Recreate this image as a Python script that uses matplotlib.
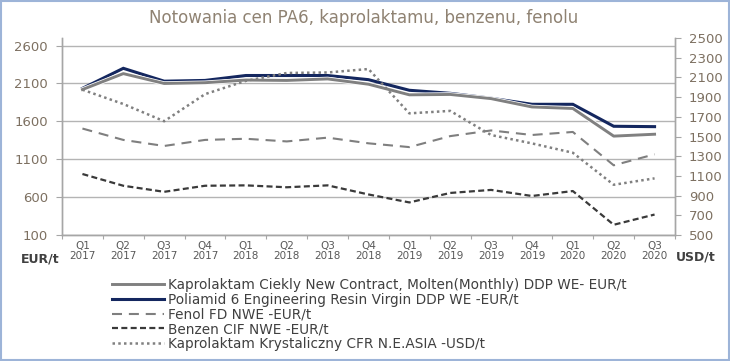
import matplotlib
matplotlib.use('Agg')
import matplotlib.pyplot as plt
import matplotlib.patheffects as pe
from matplotlib.patches import Rectangle

quarters = ['Q1\n2017', 'Q2\n2017', 'Q3\n2017', 'Q4\n2017',
            'Q1\n2018', 'Q2\n2018', 'Q3\n2018', 'Q4\n2018',
            'Q1\n2019', 'Q2\n2019', 'Q3\n2019', 'Q4\n2019',
            'Q1\n2020', 'Q2\n2020', 'Q3\n2020']

# EUR/t (left axis)
kaprolaktam_ciekly = [2020, 2230, 2100, 2110, 2145, 2140, 2160, 2090,
                      1950, 1955, 1900, 1790, 1770, 1405, 1430]
poliamid6 = [2035, 2300, 2130, 2140, 2205, 2205, 2205, 2150,
             2010, 1970, 1905, 1825, 1825, 1535, 1530]
fenol = [1505, 1355, 1275, 1355, 1370, 1335, 1385, 1310,
         1260, 1405, 1480, 1420, 1460, 1020, 1165]
benzen = [905, 750, 670, 750, 755, 730, 755, 635,
          530, 655, 695, 615, 680, 235, 370]

# USD/t (right axis)
kaprolaktam_kryst = [1975, 1830, 1655, 1930, 2065, 2145, 2150, 2185,
                     1735, 1760, 1515, 1430, 1335, 1010, 1075]

labels = ['Kaprolaktam Ciekly New Contract, Molten(Monthly) DDP WE- EUR/t',
          'Poliamid 6 Engineering Resin Virgin DDP WE -EUR/t',
          'Fenol FD NWE -EUR/t',
          'Benzen CIF NWE -EUR/t',
          'Kaprolaktam Krystaliczny CFR N.E.ASIA -USD/t']

W, H = 730, 361
fig = plt.figure(figsize=(W / 100, H / 100), dpi=100)
ax = fig.add_axes([62 / W, 1 - 235 / H, (675 - 62) / W, (235 - 38) / H])
ax2 = ax.twinx()

tick_col = '#7d7061'
axis_col = '#a6a6a6'
x = list(range(len(quarters)))

l_pa6, = ax.plot(x, poliamid6, color='#14275f', lw=2.2, solid_joinstyle='miter')
l_kc, = ax.plot(x, kaprolaktam_ciekly, color='#808080', lw=2.1,
                path_effects=[pe.Stroke(linewidth=3.2, foreground='white'), pe.Normal()])
l_fen, = ax.plot(x, fenol, color='#7f7f7f', lw=1.5, dashes=(4.8, 3.3))
l_ben, = ax.plot(x, benzen, color='#3a3a3a', lw=1.6, dashes=(2.7, 1.5))
l_kk, = ax2.plot(x, kaprolaktam_kryst, color='#808080', lw=1.8, dashes=(1, 1.3))

ax.set_xlim(-0.5, len(quarters) - 0.5)
ax.set_ylim(100, 2700)
ax.set_yticks(range(100, 2601, 500))
ax2.set_ylim(500, 2500)
ax2.set_yticks(range(500, 2501, 200))

# tick marks between categories, labels at the centres
ax.set_xticks([i + 0.5 for i in range(-1, len(quarters))])
ax.set_xticklabels([])
ax.set_xticks(x, minor=True)
ax.set_xticklabels(quarters, minor=True, fontsize=7.5, color='#595959', linespacing=1.05)
ax.tick_params(axis='x', which='major', length=3, color=axis_col, direction='out')
ax.tick_params(axis='x', which='minor', length=0, pad=4)

ax.tick_params(axis='y', length=4, color=axis_col, labelcolor=tick_col, labelsize=9.5, pad=6)
ax2.tick_params(axis='y', length=4, color=axis_col, labelcolor=tick_col, labelsize=9.5, pad=6)

ax.yaxis.grid(True, color='#b4b4b4', lw=1.0)
ax.set_axisbelow(True)

for a in (ax, ax2):
    a.spines['top'].set_visible(False)
    for s in ('left', 'right', 'bottom'):
        a.spines[s].set_color(axis_col)
        a.spines[s].set_linewidth(1.0)

fig.text(364 / W, 1 - 18 / H, 'Notowania cen PA6, kaprolaktamu, benzenu, fenolu',
         ha='center', va='center', fontsize=12, color='#8f8272')
fig.text(40 / W, 1 - 259 / H, 'EUR/t', ha='center', va='center', fontsize=9,
         color='#404040', fontweight='bold')
fig.text(696 / W, 1 - 257 / H, 'USD/t', ha='center', va='center', fontsize=9,
         color='#404040', fontweight='bold')

leg = fig.legend([l_kc, l_pa6, l_fen, l_ben, l_kk], labels,
                 loc='upper left', bbox_to_anchor=(112 / W, 1 - 278 / H),
                 frameon=False, fontsize=9.8, handlelength=3.8, handletextpad=0.35,
                 labelspacing=0.05, borderpad=0, borderaxespad=0)
for t in leg.get_texts():
    t.set_color('#404040')

fig.patches.append(Rectangle((0.002, 0.003), 0.996, 0.994, transform=fig.transFigure,
                             fill=False, edgecolor='#9db4d8', lw=1.5))

fig.savefig('out.png', dpi=100)
